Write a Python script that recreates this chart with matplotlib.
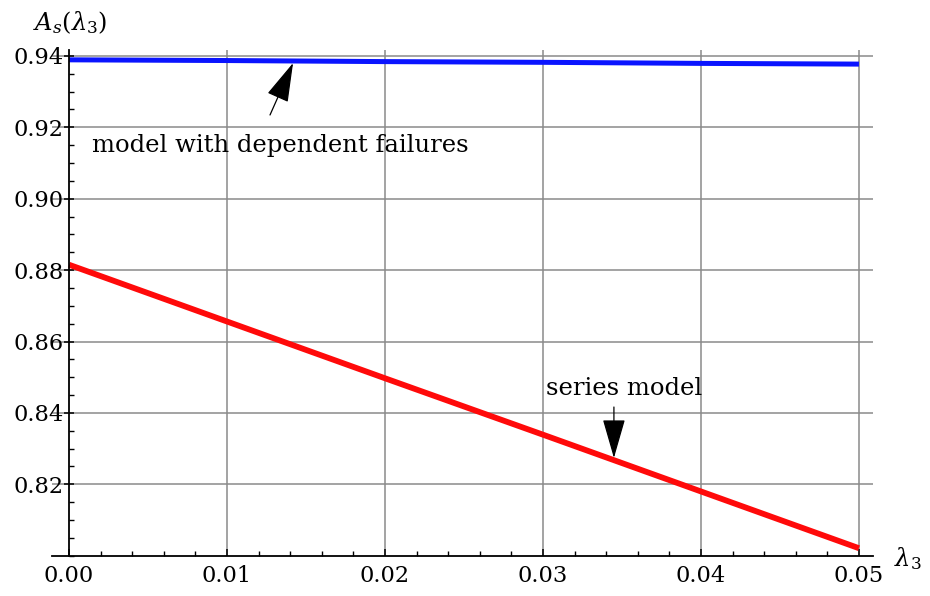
import matplotlib
matplotlib.use("Agg")
import matplotlib.pyplot as plt
from matplotlib.ticker import MultipleLocator, FixedLocator, FormatStrFormatter

plt.rcParams["font.family"] = ["DejaVu Serif"]
plt.rcParams["mathtext.fontset"] = "dejavuserif"

# values
lam3 = [0.00, 0.01, 0.02, 0.03, 0.04, 0.05]
a_dependent = [0.9389, 0.9387, 0.9384, 0.9382, 0.9379, 0.9377]
a_series = [0.8815, 0.8656, 0.8497, 0.8339, 0.8180, 0.8021]

x_major = [0.00, 0.01, 0.02, 0.03, 0.04, 0.05]
y_major = [0.82, 0.84, 0.86, 0.88, 0.90, 0.92, 0.94]

fig = plt.figure(figsize=(9.30, 5.96), dpi=100)
ax = fig.add_axes([52 / 930, 0.0676, 821 / 930, 0.8485])

ax.plot(lam3, a_dependent, color="#0a14ff", lw=3.6, solid_capstyle="butt", zorder=3)
ax.plot(lam3, a_series, color="#ff0a0a", lw=4.2, solid_capstyle="butt", zorder=3)

ax.set_xlim(-0.00108, 0.05089)
ax.set_ylim(0.80, 0.94165)

# mathematica-style axes crossing at the origin
ax.spines["top"].set_visible(False)
ax.spines["right"].set_visible(False)
ax.spines["left"].set_position(("data", 0.0))
for s in ("left", "bottom"):
    ax.spines[s].set_linewidth(1.3)
    ax.spines[s].set_zorder(4)

ax.xaxis.set_major_locator(FixedLocator(x_major))
ax.xaxis.set_minor_locator(MultipleLocator(0.002))
ax.xaxis.set_major_formatter(FormatStrFormatter("%.2f"))
ax.yaxis.set_major_locator(FixedLocator(y_major))
ax.yaxis.set_minor_locator(MultipleLocator(0.005))
ax.yaxis.set_major_formatter(FormatStrFormatter("%.2f"))

ax.tick_params(axis="x", which="major", direction="in", length=5, width=1.1,
               labelsize=16.2, pad=7, colors="black")
ax.tick_params(axis="x", which="minor", direction="in", length=3.5, width=1.0)
ax.tick_params(axis="y", which="major", direction="inout", length=7, width=1.1,
               labelsize=16.2, pad=0.5)
ax.tick_params(axis="y", which="minor", direction="in", length=3.5, width=1.0)

for v in x_major[1:]:
    ax.axvline(v, color="#8a8a8a", lw=1.1, zorder=1)
for v in y_major:
    ax.axhline(v, color="#8a8a8a", lw=1.1, zorder=1)

arrow = dict(arrowstyle="-|>,head_length=1.25,head_width=0.36", color="black",
             lw=0.9, mutation_scale=20, shrinkA=0, shrinkB=0)
ax.annotate("", xy=(0.01418, 0.93801), xytext=(0.01272, 0.92345),
            arrowprops=arrow, zorder=5)
ax.annotate("", xy=(0.03449, 0.82737), xytext=(0.03449, 0.84165),
            arrowprops=arrow, zorder=5)

ax.text(0.01339, 0.91308, "model with dependent failures", ha="center",
        va="baseline", fontsize=17.5)
ax.text(0.03513, 0.8450, "series model", ha="center", va="baseline", fontsize=17.5)

fig.text(33 / 930, 1 - 30 / 596, r"$A_s(\lambda_3)$", ha="left", va="baseline",
         fontsize=17.5)
fig.text(894 / 930, 1 - 566 / 596, r"$\lambda_3$", ha="left", va="baseline",
         fontsize=17.5)

fig.savefig("out.png", dpi=100)
